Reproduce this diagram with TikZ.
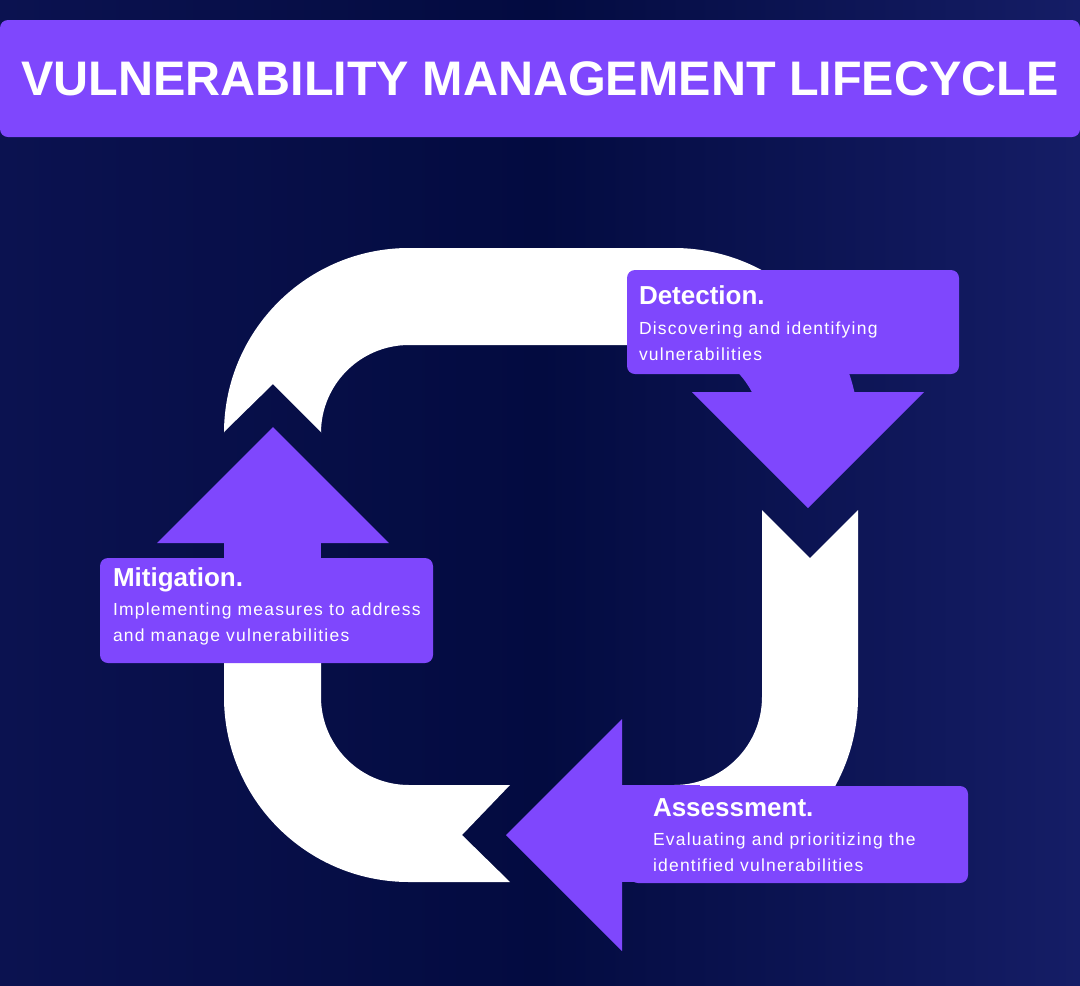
\documentclass[tikz,border=0pt]{standalone}
\usepackage{fontspec}
\setmainfont{Liberation Sans}
\usetikzlibrary{positioning,calc}
\definecolor{vio}{RGB}{127,71,253}
\definecolor{bgl}{RGB}{11,18,80}
\definecolor{bgm}{RGB}{3,11,64}
\definecolor{bgr}{RGB}{21,29,102}

\begin{document}
\begin{tikzpicture}[x=1pt,y=1pt,
  card/.style={rectangle,rounded corners=8pt,fill=vio,inner sep=0pt},
  hd/.style={anchor=base west,inner sep=0pt,text=white,font=\fontsize{26}{30}\selectfont\bfseries},
  txt/.style={anchor=base west,inner sep=0pt,text=white,align=left,font=\fontsize{17.5}{26}\selectfont\addfontfeature{LetterSpace=7}},
  ring/.style={fill=white},
  tip/.style={fill=vio}]
\useasboundingbox (0,0) rectangle (1080,-986);
\shade[left color=bgl,right color=bgr,middle color=bgm] (0,0) rectangle (1080,-986);
% corner centres of the loop
\coordinate (tl) at (409,-433);
\coordinate (tr) at (674,-433);
\coordinate (br) at (674,-697);
\coordinate (bl) at (409,-697);
% white loop parts
\fill[ring] (224,-432) -- (273,-384) -- (321,-432) -- (321,-433)
  arc[start angle=180,end angle=90,radius=88pt] -- (674,-345)
  arc[start angle=90,end angle=50,radius=88pt] -- ($(tr)+(50:185pt)$)
  arc[start angle=50,end angle=90,radius=185pt] -- (409,-248)
  arc[start angle=90,end angle=180,radius=185pt] -- cycle;
\fill[ring] (762,-510) -- (810,-558) -- (858,-510) -- (858,-697)
  arc[start angle=0,end angle=-90,radius=185pt] -- (660,-882) -- (660,-785) -- (674,-785)
  arc[start angle=-90,end angle=0,radius=88pt] -- cycle;
\fill[ring] (510,-785) -- (462,-835) -- (510,-882) -- (409,-882)
  arc[start angle=270,end angle=180,radius=185pt] -- (224,-620) -- (321,-620) -- (321,-697)
  arc[start angle=180,end angle=270,radius=88pt] -- cycle;
% purple arrow ends
\fill[tip] ($(tr)+(50:88pt)$) arc[start angle=50,end angle=27.8,radius=88pt]
  -- ($(tr)+(12.8:185pt)$) arc[start angle=12.8,end angle=50,radius=185pt] -- cycle;
\fill[tip] (692,-392) -- (924,-392) -- (808,-508) -- cycle;
\fill[tip] (622,-785) rectangle (700,-882);
\fill[tip] (622,-719) -- (622,-951) -- (506,-835) -- cycle;
\fill[tip] (224,-543) rectangle (321,-620);
\fill[tip] (157,-543) -- (389,-543) -- (273,-427) -- cycle;
% title
\node[card,minimum width=1080pt,minimum height=117pt,text=white,font=\fontsize{48.5}{50}\selectfont\bfseries] (ttl) at (540,-78.5) {VULNERABILITY MANAGEMENT LIFECYCLE};
% cards
\node[card,minimum width=332pt,minimum height=104pt] (det) at (793,-322) {};
\node[card,minimum width=333pt,minimum height=105pt] (mit) at (266.5,-610.5) {};
\node[card,minimum width=338pt,minimum height=97pt] (ass) at (799,-834.5) {};
\node[hd] (detH) at ([xshift=12pt,yshift=-35pt]det.north west) {Detection.};
\node[txt] (detB) at ([yshift=-56pt]detH.base west) {Discovering and identifying\\vulnerabilities};
\node[hd] (mitH) at ([xshift=13pt,yshift=-29pt]mit.north west) {Mitigation.};
\node[txt] (mitB) at ([yshift=-55pt]mitH.base west) {Implementing measures to address\\and manage vulnerabilities};
\node[hd] (assH) at ([xshift=23pt,yshift=-31pt]ass.north west) {Assessment.};
\node[txt] (assB) at ([yshift=-55pt]assH.base west) {Evaluating and prioritizing the\\identified vulnerabilities};
\end{tikzpicture}
\end{document}
